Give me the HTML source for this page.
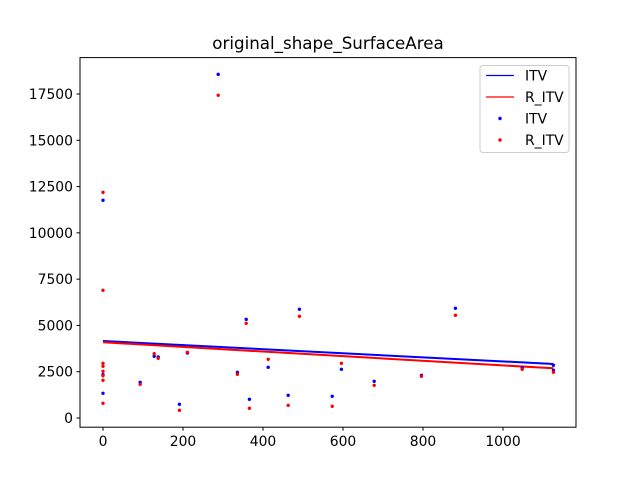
<!DOCTYPE html>
<html><head><meta charset="utf-8"><style>
body{margin:0;background:#fff}
svg{display:block;font-family:"DejaVu Sans","Liberation Sans",sans-serif}
</style></head><body>
<svg id="chart" width="640" height="480">
<rect width="640" height="480" fill="#fff"/>
<text x="328" y="49" font-size="16.7" text-anchor="middle">original_shape_SurfaceArea</text>
<g id="plot"></g>
<rect x="80" y="57.6" width="496" height="369.6" fill="none" stroke="#000" stroke-width="1"/>
<g>
<rect x="480" y="65.5" width="89" height="87" rx="3" fill="#fff" fill-opacity="0.8" stroke="#ccc"/>
<line x1="486" y1="75.5" x2="514" y2="75.5" stroke="#0000ff" stroke-width="1.2"/>
<text x="525" y="80.5" font-size="13.9">ITV</text>
<line x1="486" y1="97" x2="514" y2="97" stroke="#ff0000" stroke-width="1.2"/>
<text x="525" y="102" font-size="13.9">R_ITV</text>
<circle cx="500" cy="118.5" r="1.7" fill="#0000ff"/>
<text x="525" y="123.5" font-size="13.9">ITV</text>
<circle cx="500" cy="140" r="1.7" fill="#ff0000"/>
<text x="525" y="145" font-size="13.9">R_ITV</text>
</g>
</svg>
<script>
const xTicks=[0,200,400,600,800,1000];
const yTicks=[0,2500,5000,7500,10000,12500,15000,17500];
const itvX=[0,288,358,491,128,138,211,93,0,0,191,336,413,366,463,573,596,678,881,796,1048,1126,1126];
const itvY=[11758,18563,5330,5871,3332,3295,3511,1928,2340,1334,740,2468,2738,1010,1226,1172,2630,1982,5925,2306,2700,2846,2576];
const ritvX=[0,288,0,358,491,128,138,211,93,0,0,0,0,0,0,191,336,413,366,463,573,596,678,881,796,1048,1126];
const ritvY=[12190,17430,6897,5115,5493,3473,3224,3548,1820,2954,2792,2522,2286,2036,794,416,2360,3170,524,686,632,2954,1766,5547,2252,2630,2468];
const itvLineX=[0,1126];
const itvLineY=[4159,2917];
const ritvLineX=[0,1126];
const ritvLineY=[4089,2684];
const NS='http://www.w3.org/2000/svg';
const sx=v=>103+v*0.4;
const sy=v=>418-v*0.018514;
const g=document.getElementById('plot');
function mk(t,a){const e=document.createElementNS(NS,t);for(const k in a)e.setAttribute(k,a[k]);g.appendChild(e);return e;}
xTicks.forEach(t=>{
 const l=mk('line',{x1:sx(t),x2:sx(t),y1:427.2,y2:430.7,stroke:'#000'});
 
 
 const tx=mk('text',{x:sx(t),y:446,'font-size':'13.9','text-anchor':'middle'});tx.textContent=t;
 
 
});
yTicks.forEach(t=>{
 const l=mk('line',{x1:76.5,x2:80,y1:sy(t),y2:sy(t),stroke:'#000'});
 
 
 const tx=mk('text',{x:73,y:sy(t)+5,'font-size':'13.9','text-anchor':'end'});tx.textContent=t;
 
 
});
const l1=mk('line',{x1:sx(itvLineX[0]),y1:sy(itvLineY[0]),x2:sx(itvLineX[1]),y2:sy(itvLineY[1]),stroke:'#0000ff','stroke-width':2});


const l2=mk('line',{x1:sx(ritvLineX[0]),y1:sy(ritvLineY[0]),x2:sx(ritvLineX[1]),y2:sy(ritvLineY[1]),stroke:'#ff0000','stroke-width':2});


itvX.forEach((x,i)=>{
 const c=mk('circle',{cx:sx(x),cy:sy(itvY[i]),r:1.7,fill:'#0000ff'});
 
 
});
ritvX.forEach((x,i)=>{
 const c=mk('circle',{cx:sx(x),cy:sy(ritvY[i]),r:1.7,fill:'#ff0000'});
 
 
});
</script>
</body></html>
